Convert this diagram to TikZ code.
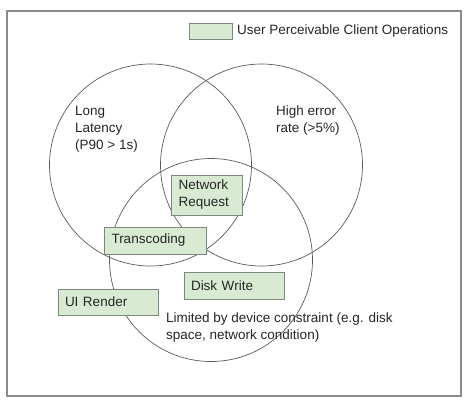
\documentclass[tikz,border=0pt]{standalone}
\usepackage{fontspec}
\setmainfont{Liberation Sans}
\usepackage{xcolor}
\definecolor{frm}{HTML}{8C8C8C}
\definecolor{ring}{HTML}{5A5A5A}
\definecolor{opfill}{HTML}{D9EAD3}
\definecolor{opline}{HTML}{7D877D}
\definecolor{ink}{HTML}{262626}
\usetikzlibrary{positioning}
\tikzset{
  frame/.style={draw=frm,line width=1.3pt},
  setring/.style={circle,draw=ring,line width=0.7pt,inner sep=0pt},
  op/.style={draw=opline,fill=opfill,line width=0.8pt,inner xsep=7pt,inner ysep=0pt,align=left,font=\fontsize{13.5}{17}\selectfont\color{ink}},
  lab/.style={inner sep=0pt,align=left,font=\fontsize{13.5}{17}\selectfont\color{ink}},
}

\begin{document}
\begin{tikzpicture}[x=1pt,y=-1pt]
\useasboundingbox (0,0) rectangle (465,400);
\node[frame,minimum width=454pt,minimum height=385pt,inner sep=0pt] (page) at (234,203.5) {};
% the three sets
\node[setring,minimum size=202pt] (lat) at (150.5,165) {};
\node[setring,minimum size=202pt] (err) at (261.5,165) {};
\node[setring,minimum size=203pt] (dev) at (211,260) {};
\node[lab,anchor=north west] (latlab) at (75,106) {Long\\Latency\\(P90 > 1s)};
\node[lab,anchor=north west] (errlab) at (276,106) {High error\\rate (>5\%)};
\node[lab,anchor=north west] (devlab) at (166,312.5) {Limited by device constraint (e.g. disk\\space, network condition)};
% legend
\node[op,minimum width=43pt,minimum height=16pt] (key) at (210.5,31) {};
\node[lab,anchor=west] (keylab) at (237,31) {User Perceivable Client Operations};
% operations
\node[op,text width=56pt,minimum height=40pt,inner xsep=7.5pt] (net) at (206.5,195) {\raisebox{-2pt}{Network}\\\raisebox{-2pt}{Request}};
\node[op,text width=87pt,minimum height=27pt,inner xsep=7.5pt] (trans) at (155,240.5) {\raisebox{-1.5pt}{Transcoding}};
\node[op,text width=86pt,minimum height=27pt] (disk) at (234,285.5) {Disk Write};
\node[op,text width=86pt,minimum height=26pt] (ui) at (108,302) {UI Render};
\end{tikzpicture}
\end{document}
